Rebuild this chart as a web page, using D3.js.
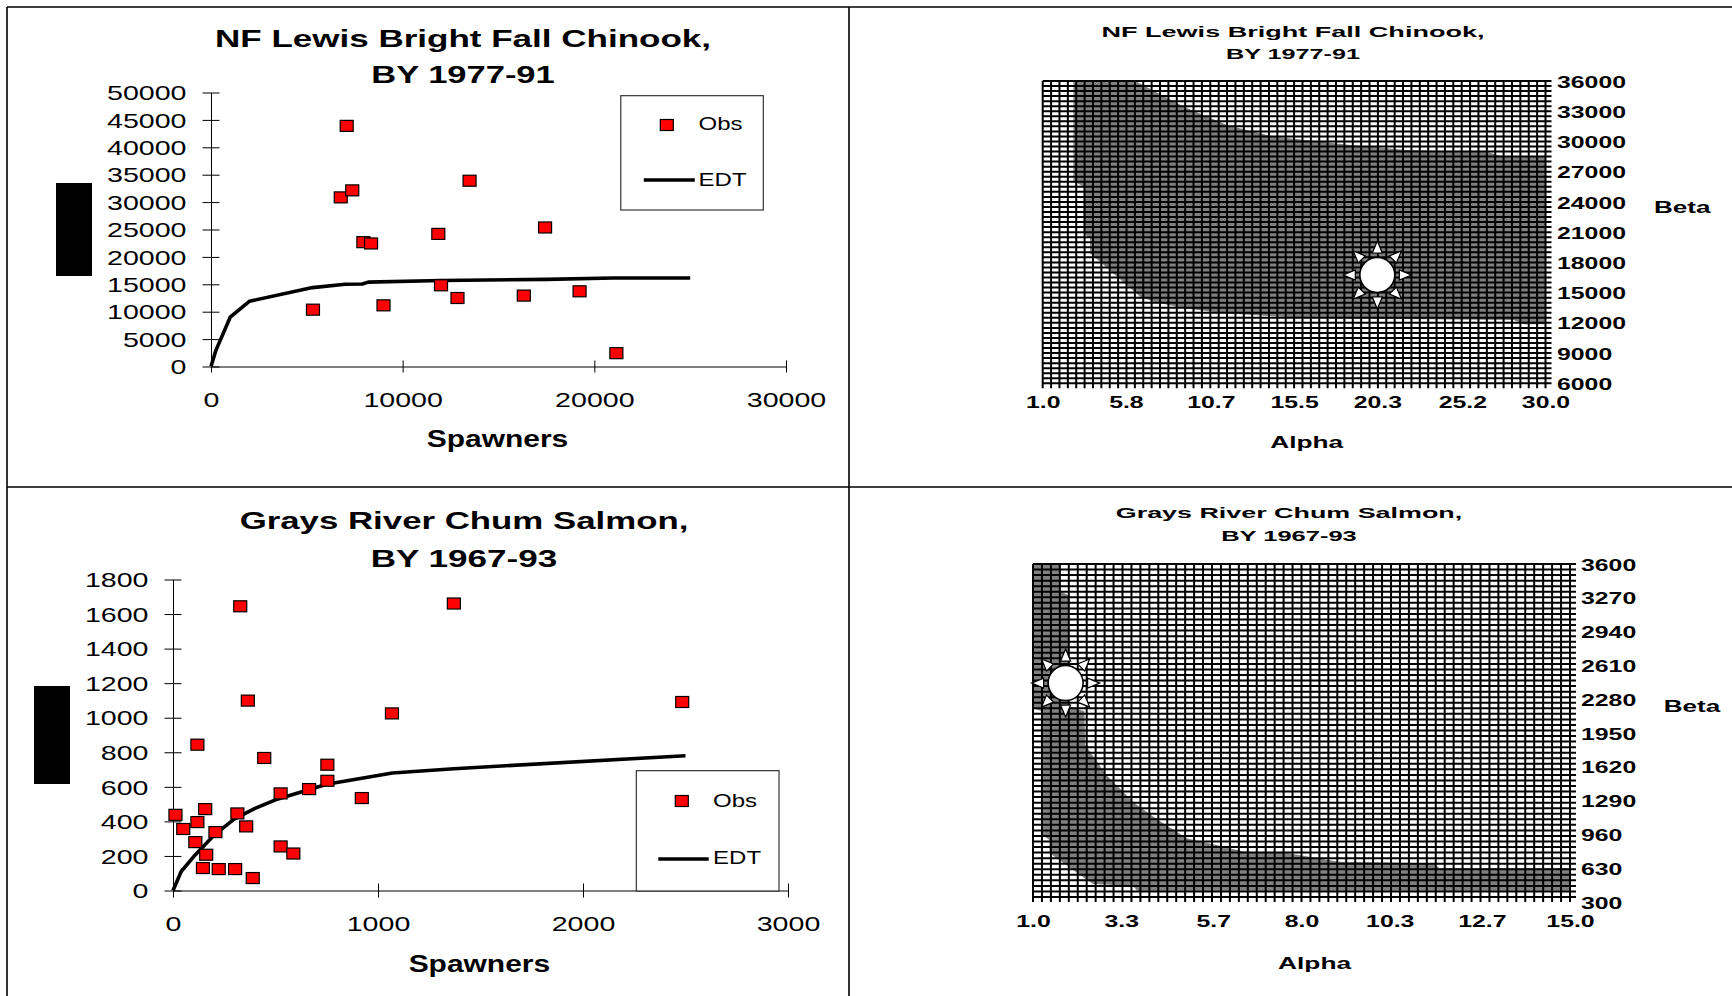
<!DOCTYPE html>
<html>
<head>
<meta charset="utf-8">
<script src="https://cdn.jsdelivr.net/npm/d3@7"></script>
<style>
body { margin: 0; background: #fff; }
svg text { font-family: "Liberation Sans", Arial, sans-serif; fill: #000; }
</style>
</head>
<body>
<svg id="chart" width="1732" height="996"></svg>
<script>
// NF Lewis Bright Fall Chinook, BY 1977-91 (spawner / recruit)
const nfSpawners = [7080, 6770, 7370, 13490, 7950, 8350, 11860, 17430, 5320, 9000, 12000, 12860, 16320, 19230, 21150]
const nfRecruits = [43910, 30860, 32140, 33900, 22690, 22450, 24200, 25370, 10370, 11160, 14820, 12500, 12940, 13720, 2430]
const nfEdtS = [0, 250, 1000, 2000, 5300, 7000, 7900, 8200, 12000, 17500, 21000, 25000]
const nfEdtR = [0, 2900, 9000, 11900, 14400, 15000, 15050, 15400, 15700, 15900, 16150, 16150]
const nfSpawnTicks = [0, 10000, 20000, 30000]
const nfRecruitTicks = [0, 5000, 10000, 15000, 20000, 25000, 30000, 35000, 40000, 45000, 50000]

// Grays River Chum Salmon, BY 1967-93
const grSpawners = [328, 1370, 365, 2484, 1068, 119, 445, 753, 753, 664, 525, 921, 12, 314, 157, 119, 357, 50, 207, 109, 525, 587, 162, 146, 223, 303, 389]
const grRecruits = [1645, 1661, 1099, 1091, 1025, 844, 767, 728, 635, 587, 562, 535, 438, 446, 471, 396, 371, 356, 338, 280, 255, 214, 207, 130, 124, 124, 72]
const grEdtS = [0, 40, 100, 200, 300, 400, 500, 750, 1070, 1370, 2500]
const grEdtR = [0, 110, 195, 320, 415, 475, 525, 615, 680, 705, 780]
const grSpawnTicks = [0, 1000, 2000, 3000]
const grRecruitTicks = [0, 200, 400, 600, 800, 1000, 1200, 1400, 1600, 1800]

// alpha / beta surfaces (shaded region outline, best fit)
const nfAlphaTicks = ['1.0', '5.8', '10.7', '15.5', '20.3', '25.2', '30.0']
const nfBetaTicks = ['6000', '9000', '12000', '15000', '18000', '21000', '24000', '27000', '30000', '33000', '36000']
const nfRegionAlpha = [2.77, 6.33, 9.12, 11.62, 14.32, 18.74, 22.01, 26.73, 27.54, 30.0, 30.0, 28.75, 28.17, 16.24, 11.53, 9.12, 7.41, 6.62, 4.41, 3.73, 3.73, 3.35, 3.35, 2.77]
const nfRegionBeta = [36000, 36000, 33460, 31640, 30480, 29650, 29160, 28920, 28490, 28490, 11860, 11860, 12290, 12450, 12950, 13440, 14100, 14600, 17910, 18900, 20390, 20890, 25520, 26080]
const nfBest = [20.3, 16750]

const grAlphaTicks = ['1.0', '3.3', '5.7', '8.0', '10.3', '12.7', '15.0']
const grBetaTicks = ['300', '630', '960', '1290', '1620', '1950', '2280', '2610', '2940', '3270', '3600']
const grRegionAlpha = [1.0, 1.69, 1.69, 1.93, 1.93, 2.34, 2.36, 2.91, 3.65, 4.25, 5.02, 5.73, 6.48, 7.65, 8.97, 11.45, 11.6, 15.0, 15.0, 3.72, 3.6, 2.56, 1.43, 1.43, 1.23, 1.23, 1.0]
const grRegionBeta = [3600, 3600, 3330, 3290, 2190, 2140, 1810, 1510, 1230, 1065, 880, 820, 750, 733, 650, 634, 584, 584, 363, 363, 412, 429, 736, 865, 918, 2140, 2173]
const grBest = [1.85, 2420]

const svg = d3.select('#chart')
svg.append('rect').attr('width', 1732).attr('height', 996).attr('fill', '#fff')

// the source picture is stretched sideways, so text gets a fixed width
function label(g, x, y, str, size, width, bold, anchor) {
    return g.append('text')
        .attr('x', x)
        .attr('y', y)
        .attr('font-size', size)
        .attr('font-weight', bold ? 'bold' : 'normal')
        .attr('text-anchor', anchor || 'middle')
        .attr('textLength', width)
        .attr('lengthAdjust', 'spacingAndGlyphs')
        .text(str)
}

// panel frame
let frame = svg.append('g').attr('stroke', '#000').attr('stroke-width', 1.6)
frame.append('line').attr('x1', 7).attr('y1', 7).attr('x2', 1732).attr('y2', 7)
frame.append('line').attr('x1', 7).attr('y1', 7).attr('x2', 7).attr('y2', 996)
frame.append('line').attr('x1', 849).attr('y1', 7).attr('x2', 849).attr('y2', 996)
frame.append('line').attr('x1', 7).attr('y1', 487).attr('x2', 1732).attr('y2', 487)

function drawScatter(c) {
    let x = d3.scaleLinear([0, d3.max(c.xTicks)], c.xRange)
    let y = d3.scaleLinear([0, d3.max(c.yTicks)], c.yRange)
    let g = svg.append('g')

    c.title.forEach((t, i) => label(g, c.titleX, c.titleY[i], t, 23, c.titleW[i], true))

    // y axis title is blacked out in the source
    g.append('rect')
        .attr('x', c.block[0]).attr('y', c.block[1])
        .attr('width', c.block[2]).attr('height', c.block[3])
        .attr('fill', '#000')

    let yAxis = g.append('g')
        .attr('transform', `translate(${c.xRange[0]},0)`)
        .call(d3.axisLeft(y).tickValues(c.yTicks).tickSize(8.5).tickSizeOuter(0).tickFormat(d3.format('d')))
        .attr('font-size', 20)
        .attr('font-family', null)
    yAxis.selectAll('.tick line').attr('x1', 8.5)
    yAxis.selectAll('.tick text')
        .attr('x', -24.5 / 1.43)
        .attr('dy', '0.36em')
        .attr('transform', 'scale(1.43,1)')

    let xAxis = g.append('g')
        .attr('transform', `translate(0,${c.yRange[0]})`)
        .call(d3.axisBottom(x).tickValues(c.xTicks).tickSize(c.xTick).tickSizeOuter(0).tickFormat(d3.format('d')))
        .attr('font-size', 20)
        .attr('font-family', null)
    xAxis.selectAll('.tick line').attr('y1', -c.xTick)
    xAxis.selectAll('.tick text')
        .attr('y', 41)
        .attr('dy', 0)
        .attr('transform', 'scale(1.43,1)')

    label(g, c.xLabel[0], c.xLabel[1], 'Spawners', 23, 141.5, true)

    // EDT curve
    let line = d3.line().x(d => x(d[0])).y(d => y(d[1]))
    g.append('path')
        .datum(d3.zip(c.edtS, c.edtR))
        .attr('d', line)
        .attr('fill', 'none')
        .attr('stroke', '#000')
        .attr('stroke-width', 3.6)
        .attr('stroke-linejoin', 'round')

    // observations
    g.selectAll('rect.obs')
        .data(d3.zip(c.spawners, c.recruits))
        .join('rect')
        .attr('class', 'obs')
        .attr('x', d => x(d[0]) - 6.5)
        .attr('y', d => y(d[1]) - 5.5)
        .attr('width', 13)
        .attr('height', 11)
        .attr('fill', '#ff0000')
        .attr('stroke', '#000')
        .attr('stroke-width', 1.2)

    // legend
    let L = c.legend
    g.append('rect')
        .attr('x', L.x).attr('y', L.y).attr('width', L.w).attr('height', L.h)
        .attr('fill', '#fff').attr('stroke', '#222').attr('stroke-width', 1.1)
    g.append('rect')
        .attr('x', L.markX - 6.5).attr('y', L.markY - 5.5).attr('width', 13).attr('height', 11)
        .attr('fill', '#ff0000').attr('stroke', '#000').attr('stroke-width', 1.2)
    g.append('line')
        .attr('x1', L.lineX[0]).attr('x2', L.lineX[1]).attr('y1', L.lineY).attr('y2', L.lineY)
        .attr('stroke', '#000').attr('stroke-width', 3.6)
    label(g, L.textX, L.obsY, 'Obs', 19, 44, false, 'start')
    label(g, L.textX, L.edtY, 'EDT', 19, 48, false, 'start')
}

function sun(g, cx, cy) {
    let s = g.append('g').attr('transform', `translate(${cx},${cy})`)
    d3.range(8).forEach(k => {
        s.append('path')
            .attr('d', 'M0,-34L5,-22L-5,-22Z')
            .attr('transform', `rotate(${k * 45})`)
            .attr('fill', '#fff')
            .attr('stroke', '#000')
            .attr('stroke-width', 1.2)
    })
    s.append('circle')
        .attr('r', 17.5)
        .attr('fill', '#fff')
        .attr('stroke', '#000')
        .attr('stroke-width', 1.6)
}

function drawContour(c) {
    let x = d3.scaleLinear(c.alphaDomain, [c.left, c.right])
    let y = d3.scaleLinear(c.betaDomain, [c.bottom, c.top])
    let yLab = d3.scaleLinear(c.betaDomain, [c.labelBottom, c.top])
    let g = svg.append('g')

    c.title.forEach((t, i) => label(g, c.titleX, c.titleY[i], t, 15, c.titleW[i], true))

    g.append('rect')
        .attr('x', c.left).attr('y', c.top)
        .attr('width', c.right - c.left).attr('height', c.bottom - c.top)
        .attr('fill', '#fff')

    // shaded region
    let outline = d3.line().x(d => x(d[0])).y(d => y(d[1]))
    g.append('path')
        .datum(d3.zip(c.regionAlpha, c.regionBeta))
        .attr('d', d => outline(d) + 'Z')
        .attr('fill', '#808080')

    // cell grid, each line runs out past the edge as a tick
    let a0 = c.alphaDomain[0], a1 = c.alphaDomain[1]
    let b0 = c.betaDomain[0], b1 = c.betaDomain[1]
    let cols = d3.range(c.cells + 1).map(k => a0 + k * (a1 - a0) / c.cells)
    let rows = d3.range(c.cells + 1).map(k => b0 + k * (b1 - b0) / c.cells)
    let grid = g.append('g').attr('stroke', '#000').attr('stroke-width', 2)
    grid.selectAll('line.col').data(cols).join('line')
        .attr('class', 'col')
        .attr('x1', d => x(d)).attr('x2', d => x(d))
        .attr('y1', c.top).attr('y2', c.bottom + 5)
    grid.selectAll('line.row').data(rows).join('line')
        .attr('class', 'row')
        .attr('x1', c.left).attr('x2', c.right + 6)
        .attr('y1', d => y(d)).attr('y2', d => y(d))

    sun(g, x(c.best[0]), y(c.best[1]))

    let xAxis = g.append('g')
        .attr('transform', `translate(0,${c.bottom})`)
        .call(d3.axisBottom(x).tickValues(c.alphaTicks.map(Number)).tickFormat((d, i) => c.alphaTicks[i]).tickSize(0))
        .attr('font-size', 17)
        .attr('font-weight', 'bold')
        .attr('font-family', null)
    xAxis.select('.domain').remove()
    xAxis.selectAll('.tick text')
        .attr('y', c.xLabelGap)
        .attr('dy', 0)
        .attr('transform', 'scale(1.46,1)')

    let yAxis = g.append('g')
        .attr('transform', `translate(${c.right},0)`)
        .call(d3.axisRight(yLab).tickValues(c.betaTicks.map(Number)).tickFormat((d, i) => c.betaTicks[i]).tickSize(0))
        .attr('font-size', 17)
        .attr('font-weight', 'bold')
        .attr('font-family', null)
    yAxis.select('.domain').remove()
    yAxis.selectAll('.tick text')
        .attr('x', c.yLabelGap / 1.46)
        .attr('dy', '0.36em')
        .attr('transform', 'scale(1.46,1)')

    label(g, c.alphaLabel[0], c.alphaLabel[1], 'Alpha', 17, 73, true)
    label(g, c.betaLabel[0], c.betaLabel[1], 'Beta', 17, 56.5, true, 'start')
}

drawScatter({
    spawners: nfSpawners, recruits: nfRecruits, edtS: nfEdtS, edtR: nfEdtR,
    xTicks: nfSpawnTicks, yTicks: nfRecruitTicks,
    xRange: [211, 786], yRange: [366.5, 92.5], xTick: 6,
    title: ['NF Lewis Bright Fall Chinook,', 'BY 1977-91'],
    titleX: 463, titleY: [46.7, 82.5], titleW: [496, 183.5],
    xLabel: [497.5, 446.7],
    block: [56, 183, 36, 93],
    legend: { x: 620.8, y: 95.7, w: 142.5, h: 114.3, markX: 666.8, markY: 125,
        lineX: [643.8, 694.8], lineY: 180, textX: 698.6, obsY: 130, edtY: 185.7 }
})

drawScatter({
    spawners: grSpawners, recruits: grRecruits, edtS: grEdtS, edtR: grEdtR,
    xTicks: grSpawnTicks, yTicks: grRecruitTicks,
    xRange: [173, 788], yRange: [890.5, 579.5], xTick: 7,
    title: ['Grays River Chum Salmon,', 'BY 1967-93'],
    titleX: 464, titleY: [528.5, 566.5], titleW: [448.7, 186.5],
    xLabel: [479.4, 971.5],
    block: [34, 686, 36, 98],
    legend: { x: 636.3, y: 770.7, w: 142.7, h: 120.3, markX: 681.8, markY: 801,
        lineX: [658.3, 708.7], lineY: 859, textX: 713.1, obsY: 806.7, edtY: 864 }
})

drawContour({
    alphaDomain: [1, 30], betaDomain: [6000, 36000], cells: 60,
    left: 1042.7, right: 1545.5, top: 81, bottom: 383.3, labelBottom: 383.3,
    alphaTicks: nfAlphaTicks, betaTicks: nfBetaTicks,
    regionAlpha: nfRegionAlpha, regionBeta: nfRegionBeta, best: nfBest,
    title: ['NF Lewis Bright Fall Chinook,', 'BY 1977-91'],
    titleX: 1293, titleY: [37.3, 59], titleW: [383, 134],
    xLabelGap: 24.7, yLabelGap: 11.5,
    alphaLabel: [1306.7, 448.3], betaLabel: [1654, 213.3]
})

drawContour({
    alphaDomain: [1, 15], betaDomain: [300, 3600], cells: 60,
    left: 1033, right: 1570, top: 564, bottom: 897, labelBottom: 902,
    alphaTicks: grAlphaTicks, betaTicks: grBetaTicks,
    regionAlpha: grRegionAlpha, regionBeta: grRegionBeta, best: grBest,
    title: ['Grays River Chum Salmon,', 'BY 1967-93'],
    titleX: 1289, titleY: [518.3, 541], titleW: [346.4, 135.6],
    xLabelGap: 30.3, yLabelGap: 11,
    alphaLabel: [1314.6, 969], betaLabel: [1663.8, 712.3]
})
</script>
</body>
</html>
